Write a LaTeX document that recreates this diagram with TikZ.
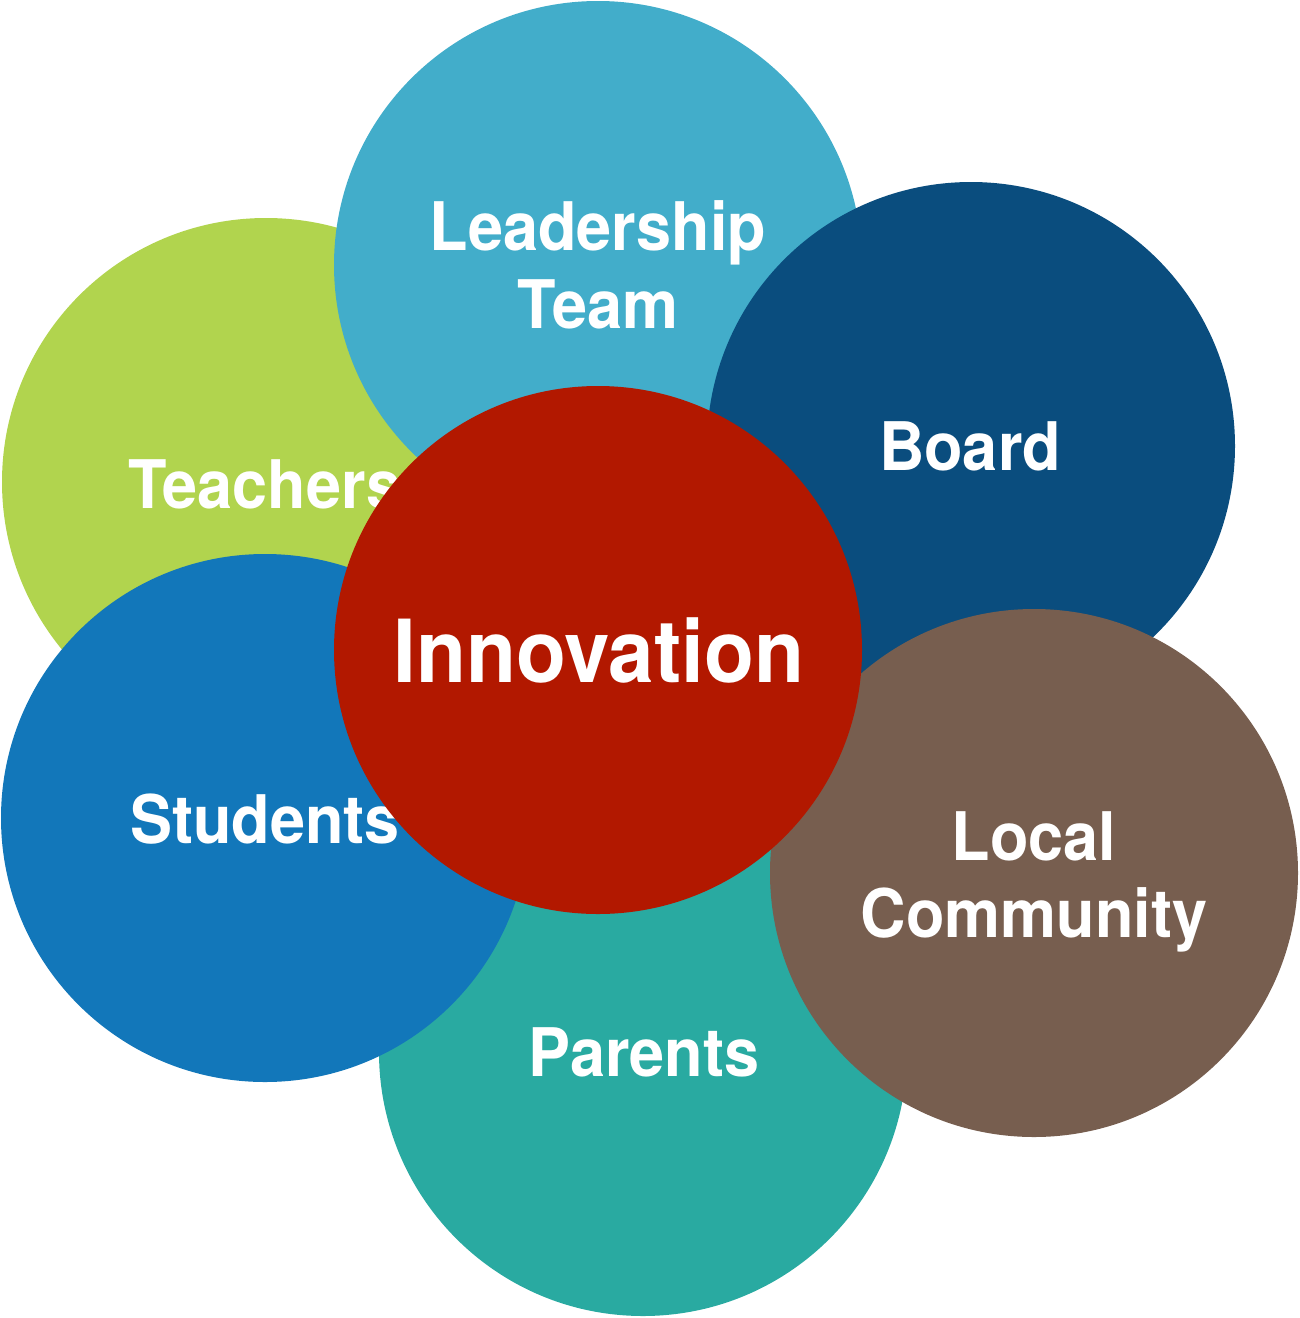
\documentclass[tikz,border=0pt]{standalone}
\usepackage{fontspec}
\setmainfont{TeX Gyre Heros}[FakeStretch=0.94]
\definecolor{cTeach}{HTML}{B1D44E}
\definecolor{cLead}{HTML}{42ADCA}
\definecolor{cBoard}{HTML}{0A4D7E}
\definecolor{cLocal}{HTML}{775E4F}
\definecolor{cPar}{HTML}{29AAA1}
\definecolor{cStud}{HTML}{1277BA}
\definecolor{cInno}{HTML}{B21800}
\tikzset{
  disc/.style={circle, inner sep=0pt, minimum size=528pt, draw=none, fill=#1},
  lbl/.style={anchor=base, inner sep=0pt, text=white, font=\fontsize{67}{78}\selectfont\bfseries},
  biglbl/.style={anchor=base, inner sep=0pt, text=white, font=\fontsize{87}{100}\selectfont\bfseries}
}
\begin{document}
\begin{tikzpicture}[x=1pt,y=-1pt]
\useasboundingbox (0,0) rectangle (1300,1318);
% Teachers
\node[disc=cTeach] (teachers) at (266,482) {};
\node[lbl] (teachersT) at (265,508) {Teachers};
% Leadership Team
\node[disc=cLead] (lead) at (598,265) {};
\node[lbl] (leadT1) at (598,250) {Leadership};
\node[lbl] (leadT2) at (598,328) {Team};
% Board
\node[disc=cBoard] (board) at (971,446) {};
\node[lbl] (boardT) at (970,470) {Board};
% Parents
\node[disc=cPar] (parents) at (643,1052) {};
\node[lbl] (parentsT) at (644,1076) {Parents};
% Local Community
\node[disc=cLocal] (local) at (1034,873) {};
\node[lbl] (localT1) at (1034,860) {Local};
\node[lbl] (localT2) at (1034,937) {Community};
% Students
\node[disc=cStud] (students) at (265,818) {};
\node[lbl] (studentsT) at (265,843) {Students};
% Innovation
\node[disc=cInno] (inno) at (598,650) {};
\node[biglbl] (innoT) at (599,682) {Innovation};
\end{tikzpicture}
\end{document}
